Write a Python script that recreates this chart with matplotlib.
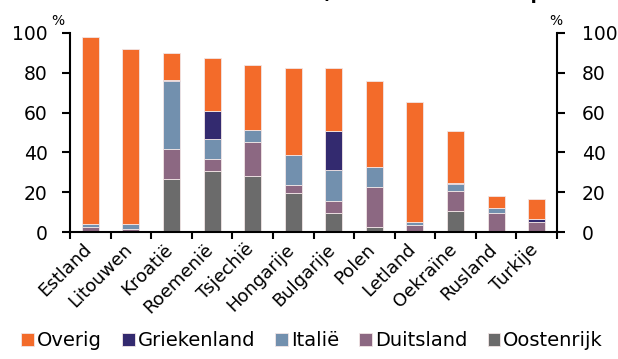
import matplotlib
matplotlib.use("Agg")
import matplotlib.pyplot as plt
import matplotlib.transforms as mtransforms
import numpy as np

countries = ["Estland", "Litouwen", "Kroatië", "Roemenië", "Tsjechië", "Hongarije",
             "Bulgarije", "Polen", "Letland", "Oekraïne", "Rusland", "Turkije"]

oostenrijk  = [0.0, 0.0, 26.6, 30.8, 28.3, 19.8, 9.7, 2.7, 0.0, 10.7, 0.0, 0.0]
duitsland   = [2.5, 1.5, 15.3, 6.1, 16.9, 4.0, 5.9, 20.1, 3.7, 9.9, 9.7, 4.9]
italie      = [1.7, 2.5, 34.0, 10.0, 5.9, 14.9, 15.4, 9.9, 1.5, 3.4, 2.5, 0.0]
griekenland = [0.0, 0.0, 0.4, 13.9, 0.0, 0.0, 19.8, 0.0, 0.0, 0.8, 0.0, 1.6]
overig      = [93.8, 87.8, 13.8, 26.8, 32.7, 43.9, 31.8, 43.2, 60.1, 26.0, 5.9, 9.9]

series = [
    ("Oostenrijk", oostenrijk, "#6b6b6b"),
    ("Duitsland", duitsland, "#8c6882"),
    ("Italië", italie, "#7290ae"),
    ("Griekenland", griekenland, "#332a6f"),
    ("Overig", overig, "#f36b2a"),
]

yticks = [0, 20, 40, 60, 80, 100]

plt.rcParams["font.family"] = ["DejaVu Sans"]

fig = plt.figure(figsize=(6.18, 3.59), dpi=100)
ax = fig.add_axes([70 / 618, 127 / 359, 487 / 618, 199 / 359])

x = np.arange(len(countries))
bottom = np.zeros(len(countries))
handles = {}
for name, vals, color in series:
    vals = np.array(vals)
    h = ax.bar(x, vals, width=0.42, bottom=bottom, color=color,
               edgecolor="#f2e6e6", linewidth=0.6, label=name)
    handles[name] = h
    bottom += vals

ax.set_xlim(-0.5, len(countries) - 0.5)
ax.set_ylim(0, 100)
ax.set_yticks(yticks)
ax.tick_params(axis="y", which="both", left=True, right=False, labelleft=True,
               direction="out", length=6, width=1.5, labelsize=13.5, pad=10)

# right-hand axis repeating the same scale
ax2 = ax.twinx()
ax2.set_ylim(0, 100)
ax2.set_yticks(yticks)
ax2.tick_params(axis="y", direction="out", length=6, width=1.5,
                labelsize=13.5, pad=12)
for s in ["left", "top", "bottom"]:
    ax2.spines[s].set_visible(False)
ax2.spines["right"].set_linewidth(1.5)

ax.set_xticks(np.arange(-0.5, len(countries), 1.0), minor=True)
ax.tick_params(axis="x", which="minor", length=5, width=1.5, direction="out")
ax.set_xticks(x)
ax.tick_params(axis="x", which="major", length=0, pad=6, labelsize=13)
ax.set_xticklabels(countries)
shift = mtransforms.ScaledTranslation(-8 / 100, 0, fig.dpi_scale_trans)
for lbl in ax.get_xticklabels():
    lbl.set_rotation(45)
    lbl.set_ha("right")
    lbl.set_rotation_mode("anchor")
    lbl.set_fontsize(13)
    lbl.set_transform(lbl.get_transform() + shift)

for s in ["left", "bottom"]:
    ax.spines[s].set_linewidth(1.5)
ax.spines["top"].set_visible(False)
ax.spines["right"].set_visible(False)

ax.text(-0.012, 1.025, "%", transform=ax.transAxes, fontsize=10, ha="right",
        va="bottom")
ax.text(1.012, 1.025, "%", transform=ax.transAxes, fontsize=10, ha="right",
        va="bottom")

order = ["Overig", "Griekenland", "Italië", "Duitsland", "Oostenrijk"]
fig.legend([handles[n] for n in order], order, loc="lower center",
           bbox_to_anchor=(0.505, -0.025), ncol=5, frameon=False, fontsize=14,
           handlelength=0.65, handleheight=0.65, handletextpad=0.15,
           columnspacing=1.05)

fig.text(0.025, 1 + 0.8 / 359, "Aandeel buitenlandse banken (% van totale activa per herkomstgroep)",
         fontsize=13, fontweight="bold", ha="left", va="baseline")

fig.savefig("out.png", dpi=100, facecolor="white")
